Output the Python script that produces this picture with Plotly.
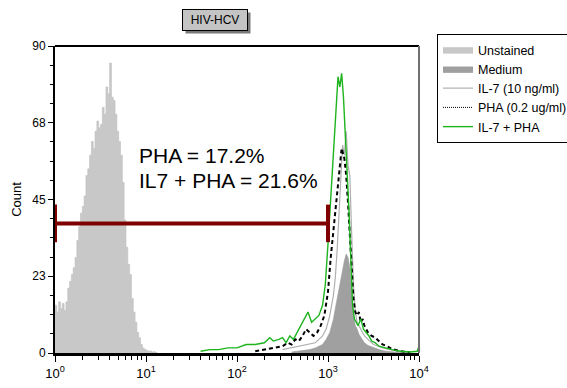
import plotly.graph_objects as go

# ---------------- data (log10 fluorescence, count) ----------------
unstained_log = [0.00, 0.02, 0.04, 0.06, 0.08, 0.10, 0.12, 0.14, 0.16, 0.18,
                 0.20, 0.22, 0.24, 0.26, 0.28, 0.30, 0.32, 0.34, 0.36, 0.38,
                 0.40, 0.42, 0.44, 0.46, 0.48, 0.50, 0.52, 0.54, 0.56, 0.58,
                 0.60, 0.62, 0.64, 0.66, 0.68, 0.70, 0.72, 0.74, 0.76, 0.78,
                 0.80, 0.82, 0.84, 0.86, 0.88, 0.90, 0.92, 0.94, 0.96, 0.98,
                 1.00, 1.02, 1.04, 1.06, 1.08, 1.10, 1.12]
unstained_cnt = [14, 12, 15, 13, 14.5, 12.5, 15, 19, 21, 23,
                 25, 28, 33, 37, 41, 43, 46, 52, 54, 58,
                 62, 60, 65, 68, 66, 67, 72, 70, 78, 76,
                 85, 75, 74, 70, 65, 62, 58, 50, 39, 31,
                 26, 23, 16, 12, 9, 6, 4.5, 2.5, 1.5, 1,
                 0.8, 0.5, 0.6, 0.3, 0.4, 0.2, 0]

medium_log = [2.60, 2.70, 2.80, 2.86, 2.90, 2.94, 2.98, 3.00, 3.02, 3.04,
              3.06, 3.08, 3.10, 3.12, 3.14, 3.16, 3.18, 3.20, 3.22, 3.24,
              3.26, 3.28, 3.30, 3.32, 3.34, 3.36, 3.38, 3.40, 3.44, 3.48,
              3.52, 3.56, 3.62, 3.70, 3.80]
medium_cnt = [0.3, 0.6, 1, 1.5, 2, 2.5, 4, 5, 6, 8,
              10, 13, 16, 19, 22, 24, 27, 29, 28, 25,
              17, 11, 8, 7, 5.5, 4.5, 3.8, 3, 2.2, 1.8,
              1.3, 1, 0.6, 0.3, 0.1]

il7_log = [2.50, 2.60, 2.70, 2.80, 2.86, 2.90, 2.94, 2.98, 3.02, 3.06,
           3.08, 3.10, 3.12, 3.14, 3.16, 3.18, 3.20, 3.22, 3.24, 3.26,
           3.28, 3.30, 3.32, 3.36, 3.40, 3.44, 3.50, 3.60, 3.70, 3.80, 3.90]
il7_cnt = [1, 1.5, 2, 2.5, 3, 4, 5, 7, 11, 17,
           22, 30, 40, 52, 61, 58, 65, 55, 52, 35,
           20, 12, 9, 7, 5, 4, 2.5, 1.5, 0.8, 0.3, 0.1]

pha_log = [2.20, 2.30, 2.40, 2.50, 2.56, 2.60, 2.64, 2.68, 2.72, 2.76,
           2.80, 2.84, 2.88, 2.92, 2.96, 3.00, 3.03, 3.06, 3.09, 3.12,
           3.15, 3.18, 3.20, 3.22, 3.24, 3.26, 3.28, 3.30, 3.32, 3.34,
           3.36, 3.38, 3.40, 3.44, 3.48, 3.52, 3.56, 3.60, 3.65, 3.70,
           3.80, 3.90]
pha_cnt = [0.5, 1, 1.5, 2, 3, 2.5, 4, 3.5, 5, 7,
           6, 5, 6, 8, 11, 18, 28, 36, 45, 53,
           60, 57, 52, 44, 35, 25, 16, 12, 11, 12,
           9, 10, 8, 6, 5, 4.5, 3.5, 2.5, 2, 1.2,
           0.5, 0.2]

combo_log = [1.60, 1.70, 1.80, 1.90, 2.00, 2.06, 2.10, 2.20, 2.30, 2.36,
             2.40, 2.46, 2.50, 2.54, 2.58, 2.62, 2.66, 2.70, 2.74, 2.78,
             2.82, 2.86, 2.90, 2.94, 2.97, 3.00, 3.03, 3.06, 3.09, 3.11,
             3.13, 3.15, 3.17, 3.19, 3.21, 3.23, 3.25, 3.27, 3.29, 3.31,
             3.33, 3.36, 3.39, 3.42, 3.45, 3.48, 3.52, 3.56, 3.62, 3.70,
             3.80, 3.90, 3.98, 4.00]
combo_cnt = [0.5, 1, 1, 1.5, 1.5, 2, 2.5, 2.5, 3, 4.5,
             3.5, 4, 4.5, 3, 5, 4, 6, 8, 10, 12,
             9, 10, 11, 14, 20, 32, 45, 60, 72, 81,
             78, 82, 75, 65, 52, 42, 28, 14, 10, 9,
             8, 10, 7, 6, 5, 3.5, 3, 2, 1.5, 1,
             0.5, 0.3, 0.5, 2]

gate_low, gate_high, gate_level = 1, 1000, 38
gate_cap_low, gate_cap_high = 32.5, 43.5

series_names = ["Unstained", "Medium", "IL-7 (10 ng/ml)", "PHA (0.2 ug/ml)", "IL-7 + PHA"]
annot_lines = ["PHA = 17.2%", "IL7 + PHA = 21.6%"]
title_text = "HIV-HCV"

x_tickvals = [1, 10, 100, 1000, 10000]
x_ticktext = ["10<sup>0</sup>", "10<sup>1</sup>", "10<sup>2</sup>", "10<sup>3</sup>", "10<sup>4</sup>"]
y_tickvals = [0, 22.5, 45, 67.5, 90]
y_ticktext = ["0", "23", "45", "68", "90"]


def lin(vals):
    return [10 ** v for v in vals]


FONT = "Arial, Liberation Sans, sans-serif"
fig = go.Figure()

fig.add_trace(go.Scatter(x=lin(unstained_log), y=unstained_cnt, mode="lines",
                         fill="tozeroy", fillcolor="#c8c8c8", line_shape="hv",
                         line=dict(color="#c0c0c0", width=0.6),
                         name=series_names[0], legendrank=1))
fig.add_trace(go.Scatter(x=lin(medium_log), y=medium_cnt, mode="lines",
                         fill="tozeroy", fillcolor="#a0a0a0",
                         line=dict(color="#999999", width=0.6),
                         name=series_names[1], legendrank=2))
fig.add_trace(go.Scatter(x=lin(il7_log), y=il7_cnt, mode="lines",
                         line=dict(color="#b0b0b0", width=1.2),
                         name=series_names[2], legendrank=3))
fig.add_trace(go.Scatter(x=lin(pha_log), y=pha_cnt, mode="lines",
                         line=dict(color="black", width=2, dash="4px,3px"),
                         name=series_names[3], showlegend=False))
fig.add_trace(go.Scatter(x=[None], y=[None], mode="lines",
                         line=dict(color="black", width=1, dash="1px,1px"),
                         name=series_names[3], legendrank=4))
fig.add_trace(go.Scatter(x=lin(combo_log), y=combo_cnt, mode="lines",
                         line=dict(color="#1db41d", width=1.4),
                         name=series_names[4], legendrank=5))

# gate bar
gate_line = dict(color="#7f0000", width=4)
fig.add_trace(go.Scatter(x=[gate_low, gate_high], y=[gate_level, gate_level], mode="lines",
                         line=gate_line, showlegend=False, hoverinfo="skip"))
fig.add_trace(go.Scatter(x=[gate_low, gate_low], y=[gate_cap_low, gate_cap_high], mode="lines",
                         line=gate_line, showlegend=False, hoverinfo="skip", cliponaxis=False))
fig.add_trace(go.Scatter(x=[gate_high, gate_high], y=[gate_cap_low, gate_cap_high], mode="lines",
                         line=gate_line, showlegend=False, hoverinfo="skip"))

minor_x = [m * d for d in [1, 10, 100, 1000] for m in range(2, 10)]
minor_y = [v for v in [i * 5.625 for i in range(17)] if v not in y_tickvals]

fig.update_xaxes(type="log", range=[0, 4], tickvals=x_tickvals, ticktext=x_ticktext,
                 ticks="outside", ticklen=6, tickwidth=1, tickcolor="black", automargin=False,
                 showline=True, linecolor="black", linewidth=3, showgrid=False, zeroline=False,
                 tickfont=dict(family=FONT, size=13, color="black"),
                 minor=dict(tickvals=minor_x, ticks="outside", ticklen=4, tickcolor="black", showgrid=False))
fig.update_yaxes(range=[0, 90], tickvals=y_tickvals, ticktext=y_ticktext,
                 ticks="outside", ticklen=5, tickwidth=1, tickcolor="black", automargin=False,
                 showline=True, linecolor="black", linewidth=2, showgrid=False, zeroline=False,
                 tickfont=dict(family=FONT, size=12, color="black"),
                 title=dict(text="Count", font=dict(family=FONT, size=13, color="black"), standoff=8),
                 minor=dict(tickvals=minor_y, ticks="outside", ticklen=3, tickcolor="black", showgrid=False))

# frame: top black, right grey
fig.add_shape(type="line", xref="paper", yref="paper", x0=0, x1=1, y0=1, y1=1,
              line=dict(color="black", width=2))
fig.add_shape(type="line", xref="paper", yref="paper", x0=1, x1=1, y0=0, y1=1,
              line=dict(color="#707070", width=2))

# title box with shadow
fig.add_annotation(text=" ", xref="paper", yref="paper", x=0.44, y=1.085,
                   xanchor="center", yanchor="middle", showarrow=False,
                   width=62, height=18, bgcolor="#7a7a7a", xshift=3, yshift=-3,
                   font=dict(family=FONT, size=12))
fig.add_annotation(text=title_text, xref="paper", yref="paper", x=0.44, y=1.085,
                   xanchor="center", yanchor="middle", showarrow=False,
                   width=62, height=18, bgcolor="#c4c4c4", bordercolor="black", borderwidth=1,
                   font=dict(family=FONT, size=12, color="black"))

# percentage text
fig.add_annotation(text=annot_lines[0], xref="paper", yref="y", x=0.2253, y=58,
                   xanchor="left", yanchor="middle", showarrow=False,
                   font=dict(family=FONT, size=21, color="black"))
fig.add_annotation(text=annot_lines[1], xref="paper", yref="y", x=0.2253, y=50.7,
                   xanchor="left", yanchor="middle", showarrow=False,
                   font=dict(family=FONT, size=21, color="black"))

fig.update_layout(
    width=567, height=388,
    margin=dict(l=55, r=148, t=46, b=35, autoexpand=False),
    paper_bgcolor="white", plot_bgcolor="white",
    font=dict(family=FONT, size=12, color="black"),
    legend=dict(xref="container", yref="container", x=437 / 567, y=1 - 34 / 388,
                xanchor="left", yanchor="top",
                bordercolor="black", borderwidth=1, bgcolor="white",
                font=dict(family=FONT, size=12.5, color="black"),
                itemwidth=30, tracegroupgap=0),
    showlegend=True,
)

fig.write_html("out.html", config={"displayModeBar": False},
               post_script="document.body.style.margin='0px';")
